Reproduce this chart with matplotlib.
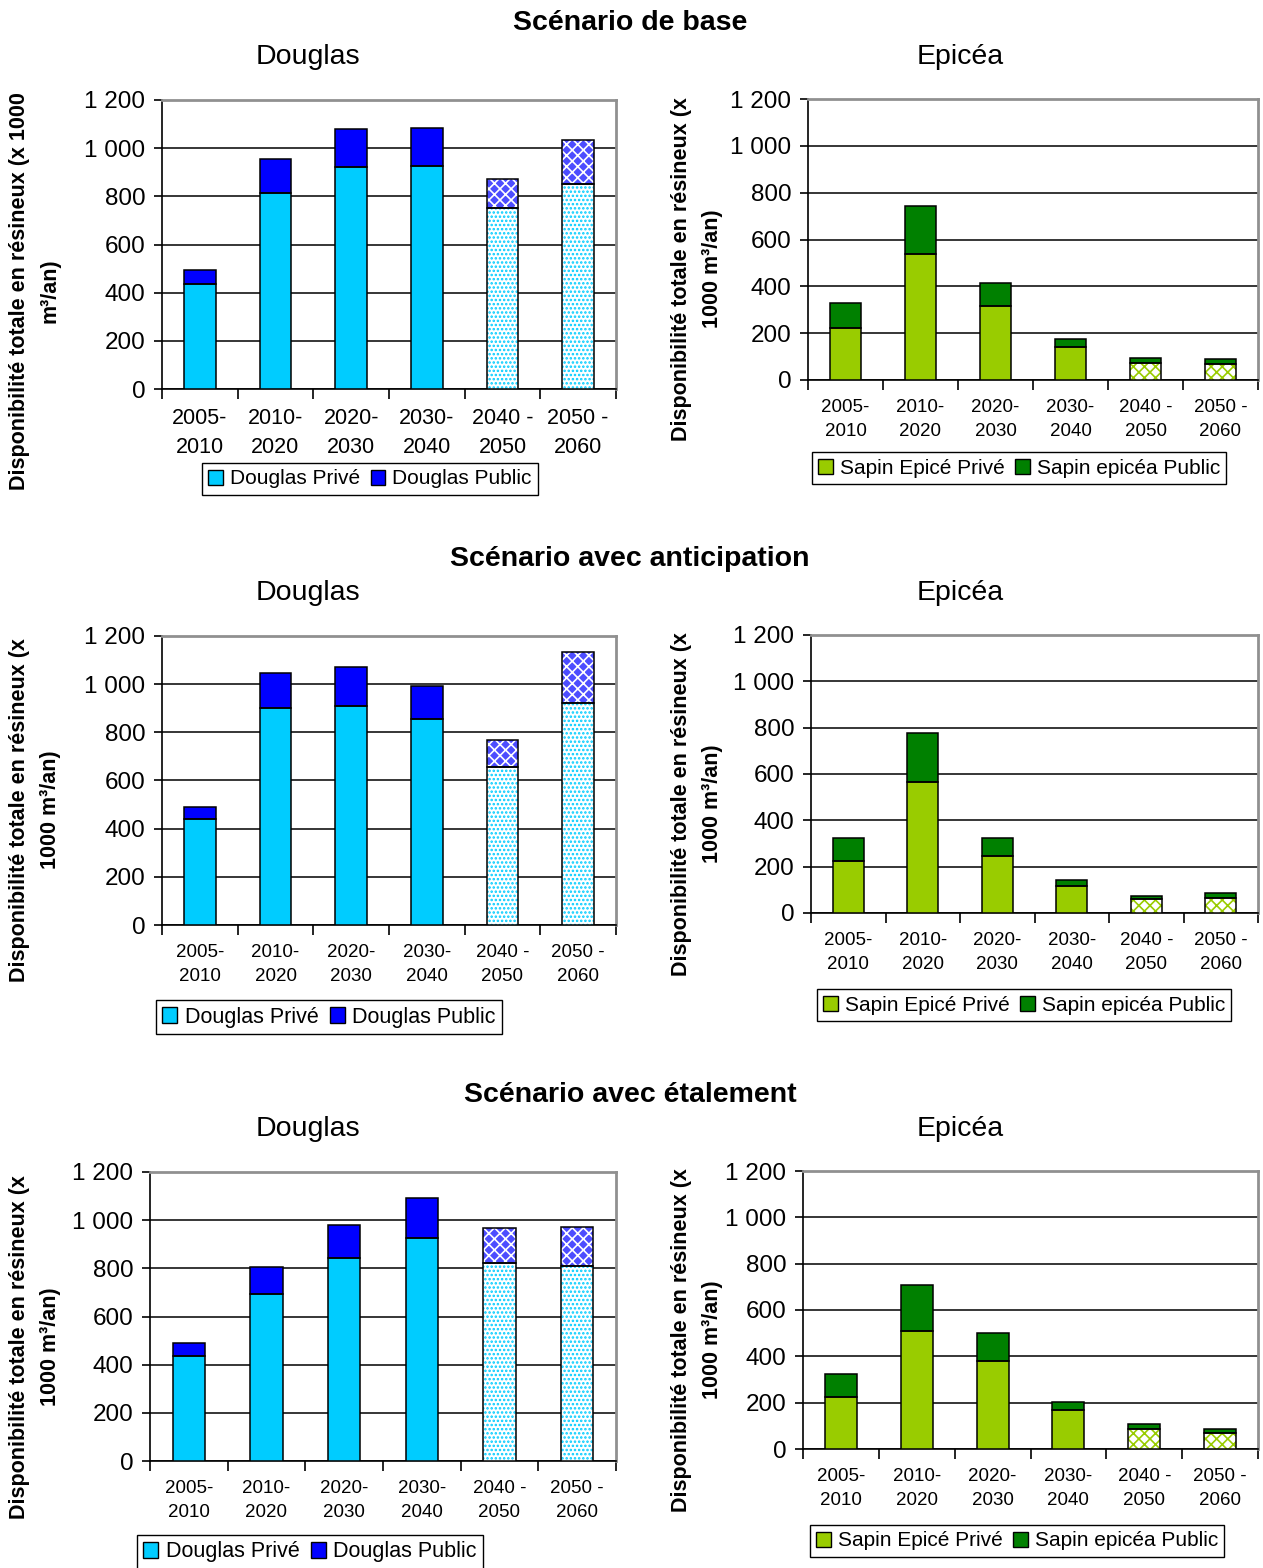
import matplotlib
matplotlib.use("Agg")
import matplotlib.pyplot as plt
from matplotlib.patches import Patch
from matplotlib.ticker import FuncFormatter, FixedLocator

plt.rcParams["font.family"] = ["Liberation Sans", "DejaVu Sans"]
plt.rcParams["hatch.linewidth"] = 1.2

periodes = ["2005-\n2010", "2010-\n2020", "2020-\n2030", "2030-\n2040", "2040 -\n2050", "2050 -\n2060"]
projete = [False, False, False, False, True, True]

scenarios = ["Scénario de base", "Scénario avec anticipation", "Scénario avec étalement"]

# Douglas (x 1000 m3/an)
douglas_prive_base = [436, 814, 922, 926, 752, 851]
douglas_public_base = [58, 141, 158, 158, 120, 183]
douglas_prive_antic = [440, 901, 909, 855, 656, 922]
douglas_public_antic = [50, 145, 162, 137, 112, 212]
douglas_prive_etal = [436, 693, 843, 926, 822, 810]
douglas_public_etal = [54, 113, 137, 166, 145, 162]

# Epicea (x 1000 m3/an)
epicea_prive_base = [222, 538, 316, 141, 73, 68]
epicea_public_base = [107, 205, 98, 34, 21, 22]
epicea_prive_antic = [224, 565, 246, 117, 60, 65]
epicea_public_antic = [100, 212, 78, 25, 13, 21]
epicea_prive_etal = [224, 509, 380, 168, 86, 69]
epicea_public_etal = [100, 199, 121, 35, 22, 17]

W, H = 1263, 1568
fig = plt.figure(figsize=(W / 100, H / 100), dpi=100)


def px_axes(left, top, right, bottom):
    return fig.add_axes([left / W, 1 - bottom / H, (right - left) / W, (bottom - top) / H])


def barres(ax, bas, haut, couleur, motif_fond, motif, motif_couleur):
    x = range(len(haut))
    for i in x:
        if projete[i] and motif:
            ax.bar(i, haut[i], bottom=bas[i], width=0.42, color=motif_fond,
                   edgecolor=motif_couleur, hatch=motif, linewidth=0, zorder=3)
        else:
            ax.bar(i, haut[i], bottom=bas[i], width=0.42, color=couleur,
                   linewidth=0, zorder=3)
        ax.bar(i, haut[i], bottom=bas[i], width=0.42, fill=False,
               edgecolor="black", linewidth=1.1, zorder=4)


def panneau(ax, prive, public, c_prive, c_public, style_prive, style_public, xfs):
    barres(ax, [0] * 6, prive, c_prive, *style_prive)
    barres(ax, prive, public, c_public, *style_public)
    ax.set_xlim(-0.5, 5.5)
    ax.set_ylim(0, 1200)
    ax.set_yticks(range(0, 1201, 200))
    ax.yaxis.set_major_formatter(FuncFormatter(lambda v, p: f"{int(v):,}".replace(",", " ")))
    ax.set_xticks(range(6))
    ax.set_xticklabels(periodes, fontsize=xfs, linespacing=1.5)
    ax.xaxis.set_minor_locator(FixedLocator([k - 0.5 for k in range(7)]))
    ax.tick_params(axis="x", which="major", length=0, pad=14)
    ax.tick_params(axis="x", which="minor", length=7, width=1.2)
    ax.tick_params(axis="y", length=6, width=1.2, labelsize=17.5, pad=6)
    ax.yaxis.grid(True, color="black", linewidth=1.1)
    ax.set_axisbelow(True)
    for s in ["left", "bottom"]:
        ax.spines[s].set_linewidth(1.2)
    for s in ["top", "right"]:
        ax.spines[s].set_color("#909090")
        ax.spines[s].set_linewidth(2)


label_1 = "Disponibilité totale en résineux (x 1000\nm³/an)"
label_2 = "Disponibilité totale en résineux (x\n1000 m³/an)"

douglas_data = [(douglas_prive_base, douglas_public_base),
                (douglas_prive_antic, douglas_public_antic),
                (douglas_prive_etal, douglas_public_etal)]
epicea_data = [(epicea_prive_base, epicea_public_base),
               (epicea_prive_antic, epicea_public_antic),
               (epicea_prive_etal, epicea_public_etal)]

pos_douglas = [(162, 100, 616, 389), (162, 636, 616, 925), (150, 1172, 616, 1461)]
pos_epicea = [(808, 99, 1258, 380), (811, 635, 1258, 913), (803, 1171, 1258, 1449)]
titre_y = [23, 559, 1095]
sous_titre_y = [57, 593, 1129]
ylab_douglas = [(35, 291), (35, 810), (35, 1347)]
ylab_epicea = [(697, 269), (697, 804), (697, 1340)]
leg_douglas = [(370, 479, 15), (329, 1017, 15.5), (310, 1552, 15.5)]
leg_epicea = [(1019, 468, 15), (1024, 1005, 15), (1017, 1541, 15)]
xfs_douglas = [15.5, 13.5, 13.5]

for k in range(3):
    fig.text(630 / W, 1 - titre_y[k] / H, scenarios[k], ha="center", va="center",
             fontsize=20.5, fontweight="bold")
    fig.text(308 / W, 1 - sous_titre_y[k] / H, "Douglas", ha="center", va="center", fontsize=20.5)
    fig.text(960 / W, 1 - sous_titre_y[k] / H, "Epicéa", ha="center", va="center", fontsize=20.5)

    ax = px_axes(*pos_douglas[k])
    panneau(ax, douglas_data[k][0], douglas_data[k][1], "#00ccff", "#0000ff",
            ("white", "....", "#00ccff"), ("#4d4dff", "xxx", "white"),
            xfs_douglas[k])
    x, y = ylab_douglas[k]
    fig.text(x / W, 1 - y / H, label_1 if k == 0 else label_2, rotation=90,
             ha="center", va="center", fontsize=15.5, fontweight="bold",
             linespacing=1.6, multialignment="center")
    lx, ly, lfs = leg_douglas[k]
    fig.legend(handles=[Patch(facecolor="#00ccff", edgecolor="black", label="Douglas Privé"),
                        Patch(facecolor="#0000ff", edgecolor="black", label="Douglas Public")],
               loc="center", bbox_to_anchor=(lx / W, 1 - ly / H), ncol=2, fontsize=lfs,
               frameon=True, fancybox=False, edgecolor="black", framealpha=1,
               handlelength=0.7, handleheight=0.7, handletextpad=0.35,
               columnspacing=0.5, borderpad=0.3, borderaxespad=0)

    ax = px_axes(*pos_epicea[k])
    panneau(ax, epicea_data[k][0], epicea_data[k][1], "#99cc00", "#008000",
            ("white", "xxx", "#99cc00"), ("#008000", None, None), 13.5)
    x, y = ylab_epicea[k]
    fig.text(x / W, 1 - y / H, label_2, rotation=90,
             ha="center", va="center", fontsize=15.5, fontweight="bold",
             linespacing=1.6, multialignment="center")
    lx, ly, lfs = leg_epicea[k]
    fig.legend(handles=[Patch(facecolor="#99cc00", edgecolor="black", label="Sapin Epicé Privé"),
                        Patch(facecolor="#008000", edgecolor="black", label="Sapin epicéa Public")],
               loc="center", bbox_to_anchor=(lx / W, 1 - ly / H), ncol=2, fontsize=lfs,
               frameon=True, fancybox=False, edgecolor="black", framealpha=1,
               handlelength=0.7, handleheight=0.7, handletextpad=0.35,
               columnspacing=0.5, borderpad=0.3, borderaxespad=0)

fig.savefig("out.png", dpi=100)
